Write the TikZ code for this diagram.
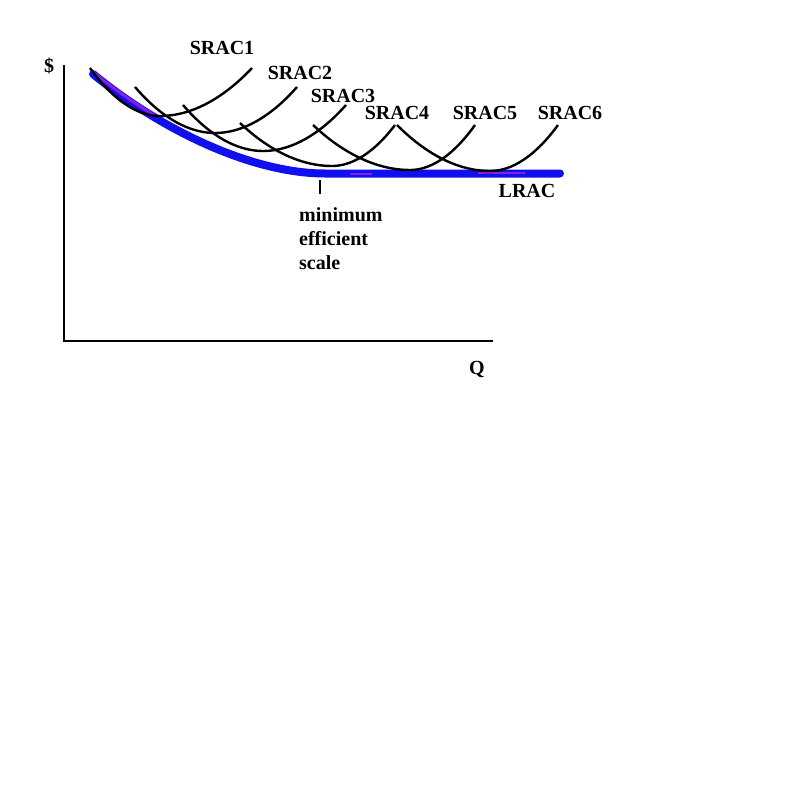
\documentclass[tikz,border=0pt]{standalone}
\usepackage{fontspec}
\setmainfont{Liberation Serif}
\definecolor{lracblue}{RGB}{15,15,240}
\definecolor{lracviolet}{RGB}{135,30,225}

\begin{document}
\begin{tikzpicture}[x=1pt,y=-1pt,
   curve/.style={line width=2.4pt},
   lbl/.style={font=\bfseries\fontsize{20}{24}\selectfont, inner sep=0pt}]
   \useasboundingbox (0,0) rectangle (800,800);
   %% axes
   \coordinate (O) at (64,341);
   \draw[line width=1.3pt] (64,65) -- (O) -- (493,341);
   \node[lbl] (dollar) at (49,66) {\$};
   \node[lbl] (q) at (477,369) {Q};
   %% long run curve
   \draw[lracblue, line width=8pt, line cap=round] (93,74) .. controls (165,133) and (255,173.5) .. (325,173.5) -- (560,173.5);
   \draw[lracviolet, line width=3pt, yshift=2pt, dash pattern=on 75pt off 1000pt] (93,74) .. controls (165,133) and (255,173.5) .. (325,173.5);
   \draw[lracviolet, line width=2.5pt] (350,174) -- (372,174);
   \draw[lracviolet, line width=2pt] (478,172.5) -- (525,172.5);
   %% short run curves
   \foreach \lx/\ly/\bx/\by/\rx/\ry in {90/68/160/116/252/68, 135/87/215/133/297/87,
        183/105/263/151/346/105, 240/123/332/166/395/125, 313/125/410/170/475/125,
        397/125/490/171/558/125}
        \draw[curve] (\lx,\ly) parabola bend (\bx,\by) (\rx,\ry);
   \foreach \Point/\Name in {(222,48)/1, (300,73)/2, (343,96)/3, (397,113)/4, (485,113)/5, (570,113)/6}
        \node[lbl] (srac\Name) at \Point {SRAC\Name};
   \node[lbl] (lrac) at (527,191) {LRAC};
   %% minimum efficient scale
   \coordinate (mes) at (320,180);
   \draw[line width=2.2pt] (mes) -- ++(0,14);
   \node[lbl, anchor=north west, align=left] (mestext) at (299,207) {minimum\\efficient\\scale};
\end{tikzpicture}
\end{document}
